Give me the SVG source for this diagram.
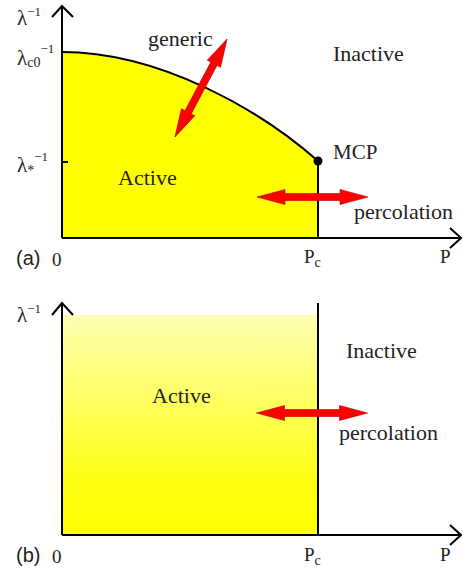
<svg xmlns="http://www.w3.org/2000/svg" width="463" height="572" viewBox="0 0 463 572">
<style>
.ax{fill:none;stroke:#000;stroke-width:2}
.t{font-family:"Liberation Serif","Times New Roman",serif;fill:#231f20}
.s{font-family:"Liberation Sans",Arial,sans-serif;fill:#231f20}
.big{font-size:22px}
.lam{font-size:21px}
.sup{font-size:13px}
.sub{font-size:14px}
.arr{fill:#ff0000;stroke:#b00000;stroke-width:0.6}
</style>
<defs>
<path id="dbl" d="M -55.5 0 L -27.5 -7.5 L -27.5 -3.5 L 27.5 -3.5 L 27.5 -7.5 L 55.5 0 L 27.5 7.5 L 27.5 3.5 L -27.5 3.5 L -27.5 7.5 Z"/>
<linearGradient id="gb" x1="0" y1="0" x2="0" y2="1">
<stop offset="0" stop-color="#ffffb4"/>
<stop offset="0.75" stop-color="#ffff14"/>
<stop offset="1" stop-color="#ffff00"/>
</linearGradient>
</defs>

<!-- Panel (a) -->
<g id="panel-a">
<g id="active-region-a">
<path d="M 62 52 C 160 52 260 110 318 161 L 318 238 L 62 238 Z" fill="#ffff00"/>
<path d="M 62 52 C 160 52 260 110 318 161" fill="none" stroke="#000" stroke-width="2"/>
<text class="t big" x="118" y="185">Active</text>
</g>
<g id="inactive-a"><text class="t big" x="333" y="61">Inactive</text></g>
<g id="mcp">
<line x1="318" y1="161" x2="318" y2="238" stroke="#000" stroke-width="2"/>
<circle cx="318" cy="161" r="4.5" fill="#000"/>
<text class="t" font-size="21" x="333" y="159">MCP</text>
</g>
<g id="axes-a">
<line class="ax" x1="62" y1="238" x2="62" y2="7"/>
<polyline class="ax" points="52,17 62,6 73,17"/>
<line class="ax" x1="62" y1="238" x2="461" y2="238"/>
<polyline class="ax" points="450,228 461,238 450,248"/>
<line x1="62" y1="162" x2="68" y2="162" stroke="#000" stroke-width="2"/>
</g>
<g id="labels-a">
<text class="t lam" x="17" y="25">λ<tspan class="sup" dy="-9">−1</tspan></text>
<text class="t lam" x="17" y="65">λ<tspan class="sub" dy="2">c0</tspan><tspan class="sup" dy="-14">−1</tspan></text>
<text class="t lam" x="17" y="172">λ<tspan class="sub" dy="3">*</tspan><tspan class="sup" dy="-14">−1</tspan></text>
<text class="s" font-size="20" x="16" y="265">(a)</text>
<text class="t" font-size="19" x="52" y="266">0</text>
<text class="t" font-size="19" x="304" y="263">P<tspan class="sub" dy="4">c</tspan></text>
<text class="t" font-size="19" x="440" y="263">P</text>
<text class="t big" x="148" y="46">generic</text>
<text class="t big" x="354" y="219">percolation</text>
</g>
<g id="arrows-a">
<use href="#dbl" class="arr" transform="translate(201,88) rotate(-62)"/>
<use href="#dbl" class="arr" transform="translate(312.5,197)"/>
</g>
</g>

<!-- Panel (b) -->
<g id="panel-b">
<g id="active-region-b">
<rect x="62" y="315" width="256" height="220" fill="url(#gb)"/>
<text class="t big" x="152" y="403">Active</text>
</g>
<g id="inactive-b"><text class="t big" x="346" y="358">Inactive</text></g>
<g id="axes-b">
<line x1="318" y1="303" x2="318" y2="535" stroke="#000" stroke-width="2"/>
<line class="ax" x1="62" y1="535" x2="62" y2="304"/>
<polyline class="ax" points="52,315 62,303 73,315"/>
<line class="ax" x1="62" y1="535" x2="461" y2="535"/>
<polyline class="ax" points="450,525 461,535 450,545"/>
</g>
<g id="labels-b">
<text class="t lam" x="17" y="322">λ<tspan class="sup" dy="-9">−1</tspan></text>
<text class="s" font-size="20" x="16" y="562">(b)</text>
<text class="t" font-size="19" x="52" y="563">0</text>
<text class="t" font-size="19" x="304" y="561">P<tspan class="sub" dy="4">c</tspan></text>
<text class="t" font-size="19" x="440" y="561">P</text>
<text class="t big" x="339" y="440">percolation</text>
</g>
<g id="arrows-b">
<use href="#dbl" class="arr" transform="translate(312,413)"/>
</g>
</g>
</svg>
